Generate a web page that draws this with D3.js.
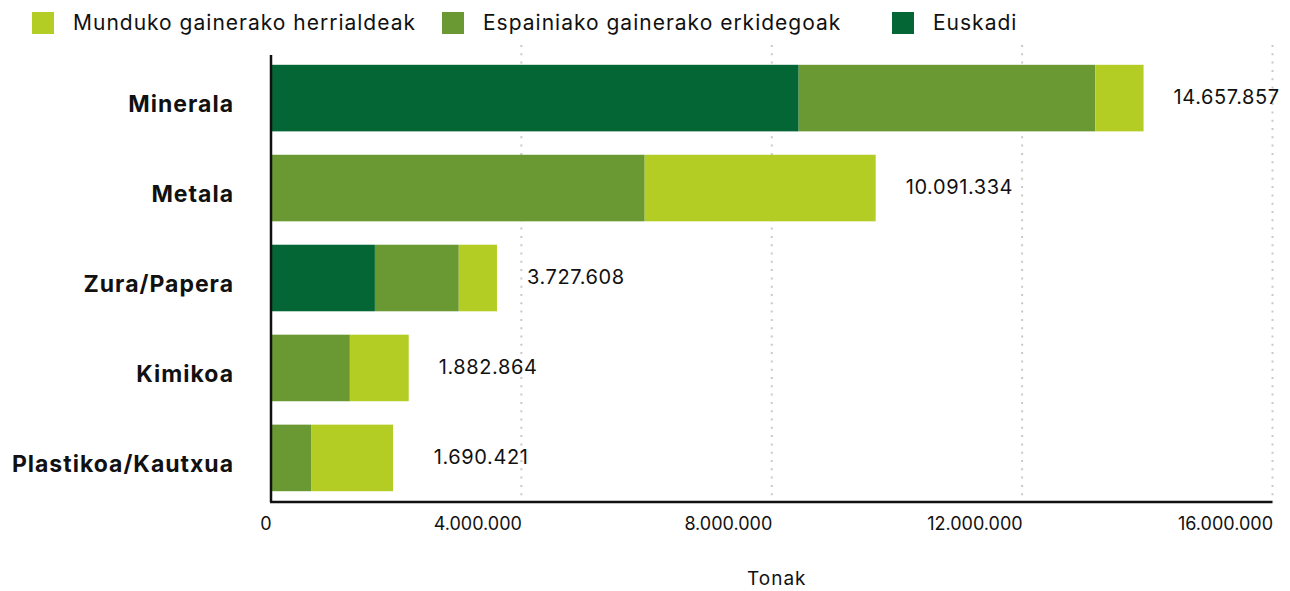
<!DOCTYPE html>
<html>
<head>
<meta charset="utf-8">
<script src="https://cdn.jsdelivr.net/npm/d3@7"></script>
<style>
  body { margin: 0; background: #fff; }
  svg text { font-family: Inter, "Noto Sans", sans-serif; fill: #111; }
</style>
</head>
<body>
<script>
// Data (tonnes)
const categories = ['Minerala', 'Metala', 'Zura/Papera', 'Kimikoa', 'Plastikoa/Kautxua'];
const seriesNames = ['Euskadi', 'Espainiako gainerako erkidegoak', 'Munduko gainerako herrialdeak'];
const euskadi = [8430000, 0, 1660000, 0, 0];
const espainia = [4740000, 5970000, 1340000, 1260000, 640000];
const mundua = [770000, 3690000, 610000, 940000, 1310000];
const totalLabels = ['14.657.857', '10.091.334', '3.727.608', '1.882.864', '1.690.421'];
const xTicks = [0, 4000000, 8000000, 12000000, 16000000];
const legendOrder = ['Munduko gainerako herrialdeak', 'Espainiako gainerako erkidegoak', 'Euskadi'];

const colors = {
  'Euskadi': '#036634',
  'Espainiako gainerako erkidegoak': '#6a9933',
  'Munduko gainerako herrialdeak': '#b4cd24'
};

const width = 1290;
const height = 591;
const plotLeft = 271, plotRight = 1272.5, plotTop = 54, plotBottom = 502;

const svg = d3.select('body')
  .append('svg')
  .attr('width', width)
  .attr('height', height);

const rows = categories.map((c, i) => ({
  cat: c,
  'Euskadi': euskadi[i],
  'Espainiako gainerako erkidegoak': espainia[i],
  'Munduko gainerako herrialdeak': mundua[i],
  label: totalLabels[i]
}));

const stacked = d3.stack().keys(seriesNames)(rows);

const xScale = d3.scaleLinear()
  .domain([0, 16000000])
  .range([plotLeft, plotRight]);

const yScale = d3.scaleBand()
  .domain(categories)
  .range([plotTop, plotBottom])
  .paddingInner(0.26)
  .paddingOuter(0.12);

// Grid lines (dotted)
svg.append('g')
  .selectAll('line')
  .data(xTicks.slice(1))
  .enter()
  .append('line')
  .attr('x1', d => xScale(d))
  .attr('x2', d => xScale(d))
  .attr('y1', 45)
  .attr('y2', plotBottom)
  .attr('stroke', '#c9c9c9')
  .attr('stroke-width', 2)
  .attr('stroke-dasharray', '2,6.3');

// Bars
svg.append('g')
  .selectAll('g')
  .data(stacked)
  .enter()
  .append('g')
  .attr('fill', d => colors[d.key])
  .selectAll('rect')
  .data(d => d)
  .enter()
  .append('rect')
  .attr('x', d => xScale(d[0]))
  .attr('y', d => yScale(d.data.cat))
  .attr('width', d => xScale(d[1]) - xScale(d[0]))
  .attr('height', yScale.bandwidth());

// Total labels
const minLabelX = xScale(2600000);
svg.append('g')
  .selectAll('text')
  .data(rows)
  .enter()
  .append('text')
  .attr('x', d => Math.max(xScale(d3.sum(seriesNames, k => d[k])) + 30, minLabelX))
  .attr('y', d => yScale(d.cat) + yScale.bandwidth() / 2)
  .attr('dy', '0.3em')
  .style('font-size', '20px')
  .style('letter-spacing', '0.6px')
  .text(d => d.label);

// Y axis
const yAxis = d3.axisLeft(yScale).tickSize(0).tickPadding(37);
const yg = svg.append('g')
  .attr('transform', 'translate(' + plotLeft + ',0)')
  .call(yAxis);
yg.select('.domain').attr('stroke', '#111').attr('stroke-width', 2.5)
  .attr('d', 'M0,' + (plotTop + 1) + 'V' + plotBottom);
yg.selectAll('text')
  .attr('dy', '0.6em')
  .style('font-size', '23px')
  .style('font-weight', 'bold')
  .style('letter-spacing', '1px');

// X axis
const xAxis = d3.axisBottom(xScale)
  .tickValues(xTicks)
  .tickSize(0)
  .tickPadding(15)
  .tickFormat(d => d3.format(',')(d).replace(/,/g, '.'));
const xg = svg.append('g')
  .attr('transform', 'translate(0,' + plotBottom + ')')
  .call(xAxis);
xg.select('.domain').attr('stroke', '#111').attr('stroke-width', 2.5)
  .attr('d', 'M' + (plotLeft - 1) + ',0H' + plotRight);
xg.selectAll('text')
  .attr('text-anchor', 'end')
  .style('font-size', '18px');

// Axis title
svg.append('text')
  .attr('x', (plotLeft + plotRight) / 2 + 5)
  .attr('y', 578)
  .attr('dy', '0.35em')
  .attr('text-anchor', 'middle')
  .style('font-size', '19px')
  .style('letter-spacing', '1px')
  .text('Tonak');

// Legend
const legendX = [32, 442, 892];
const legend = svg.append('g')
  .selectAll('g')
  .data(legendOrder)
  .enter()
  .append('g')
  .attr('transform', (d, i) => 'translate(' + legendX[i] + ',12)');
legend.append('rect')
  .attr('width', 22)
  .attr('height', 22)
  .attr('fill', d => colors[d]);
legend.append('text')
  .attr('x', 41)
  .attr('y', 11)
  .attr('dy', '0.35em')
  .style('font-size', '21px')
  .style('letter-spacing', '1px')
  .text(d => d);
</script>
</body>
</html>
